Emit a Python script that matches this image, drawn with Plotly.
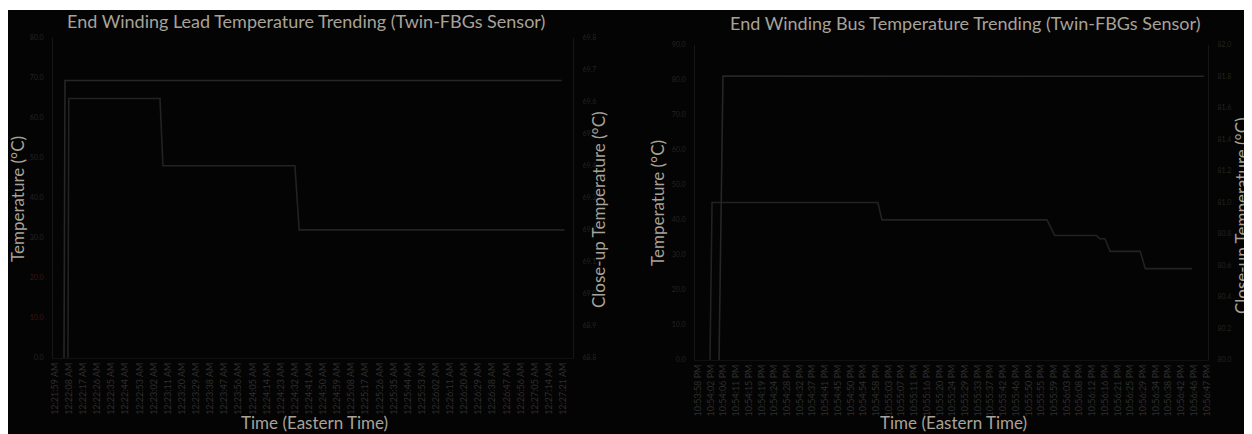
import plotly.graph_objects as go

# the page body keeps its default 8px margin, which supplies the white
# border of the original screenshot; the figure fills the rest of the window
W, H = 1244, 426
OFF = 8

# ---------------- data: left chart (End Winding Lead) ----------------
lead_time_labels = [
    "12:21:59 AM", "12:22:08 AM", "12:22:17 AM", "12:22:26 AM", "12:22:35 AM",
    "12:22:44 AM", "12:22:53 AM", "12:23:02 AM", "12:23:11 AM", "12:23:20 AM",
    "12:23:29 AM", "12:23:38 AM", "12:23:47 AM", "12:23:56 AM", "12:24:05 AM",
    "12:24:14 AM", "12:24:23 AM", "12:24:32 AM", "12:24:41 AM", "12:24:50 AM",
    "12:24:59 AM", "12:25:08 AM", "12:25:17 AM", "12:25:26 AM", "12:25:35 AM",
    "12:25:44 AM", "12:25:53 AM", "12:26:02 AM", "12:26:11 AM", "12:26:20 AM",
    "12:26:29 AM", "12:26:38 AM", "12:26:47 AM", "12:26:56 AM", "12:27:05 AM",
    "12:27:14 AM", "12:27:21 AM",
]
lead_main_x = [0.64, 0.71, 35.9]
lead_main_y = [0.0, 69.3, 69.3]
lead_close_x = [0.92, 0.98, 7.44, 7.65, 17.0, 17.3, 36.1]
lead_close_y = [68.8, 69.61, 69.61, 69.40, 69.40, 69.20, 69.20]
lead_left_ticks = [0, 10, 20, 30, 40, 50, 60, 70, 80]
lead_right_ticks = [68.8, 68.9, 69.0, 69.1, 69.2, 69.3, 69.4, 69.5, 69.6, 69.7, 69.8]

# ---------------- data: right chart (End Winding Bus) ----------------
bus_time_labels = [
    "10:53:58 PM", "10:54:02 PM", "10:54:06 PM", "10:54:11 PM", "10:54:15 PM",
    "10:54:19 PM", "10:54:24 PM", "10:54:28 PM", "10:54:32 PM", "10:54:37 PM",
    "10:54:41 PM", "10:54:45 PM", "10:54:50 PM", "10:54:54 PM", "10:54:58 PM",
    "10:55:03 PM", "10:55:07 PM", "10:55:11 PM", "10:55:16 PM", "10:55:20 PM",
    "10:55:24 PM", "10:55:29 PM", "10:55:33 PM", "10:55:37 PM", "10:55:42 PM",
    "10:55:46 PM", "10:55:50 PM", "10:55:55 PM", "10:55:59 PM", "10:56:03 PM",
    "10:56:08 PM", "10:56:12 PM", "10:56:16 PM", "10:56:21 PM", "10:56:25 PM",
    "10:56:29 PM", "10:56:34 PM", "10:56:38 PM", "10:56:42 PM", "10:56:46 PM",
    "10:56:47 PM",
]
bus_main_x = [1.65, 1.96, 39.8]
bus_main_y = [0.0, 81.1, 81.08]
bus_close_x = [0.94, 1.10, 14.14, 14.46, 27.44, 28.05, 31.34, 31.6, 32.0, 32.4,
               34.77, 35.17, 38.86]
bus_close_y = [80.0, 81.0, 81.0, 80.89, 80.89, 80.79, 80.79, 80.77, 80.77, 80.69,
               80.69, 80.58, 80.58]
bus_left_ticks = [0, 10, 20, 30, 40, 50, 60, 70, 80, 90]
bus_right_ticks = [80.0, 80.2, 80.4, 80.6, 80.8, 81.0, 81.2, 81.4, 81.6, 81.8, 82.0]

titles = ["End Winding Lead Temperature Trending (Twin-FBGs Sensor)",
          "End Winding Bus Temperature Trending (Twin-FBGs Sensor)"]

# ---------------- styling ----------------
BG = "#040404"
TICKY = "#252321"
TICKX = "#302f2e"
TITLE = "#a8a298"
LINE1 = "#262626"
LINE2 = "#222222"
AXL = "#161616"
FONT = "Lato"


def fx(p):  # page pixel -> paper fraction
    return (p - OFF) / W


def fy(p):
    return 1 - (p - OFF) / H


fig = go.Figure()
fig.add_trace(go.Scatter(x=lead_main_x, y=lead_main_y, mode="lines",
                         line=dict(color=LINE1, width=1.6), xaxis="x", yaxis="y",
                         showlegend=False))
fig.add_trace(go.Scatter(x=lead_close_x, y=lead_close_y, mode="lines",
                         line=dict(color=LINE2, width=1.6), xaxis="x", yaxis="y2",
                         showlegend=False))
fig.add_trace(go.Scatter(x=bus_main_x, y=bus_main_y, mode="lines",
                         line=dict(color=LINE1, width=1.6), xaxis="x2", yaxis="y3",
                         showlegend=False))
fig.add_trace(go.Scatter(x=bus_close_x, y=bus_close_y, mode="lines",
                         line=dict(color=LINE2, width=1.6), xaxis="x2", yaxis="y4",
                         showlegend=False))


def ylabels(vals, fmt, red=()):
    out = []
    for v in vals:
        s = fmt.format(v)
        if v in red:
            s = '<span style="color:#3a1414">' + s + "</span>"
        out.append(s)
    return out


tickfont_x = dict(family=FONT, size=9, color=TICKX)
tickfont_y = dict(family=FONT, size=7, color=TICKY)

common_x = dict(showgrid=False, zeroline=False, showline=True, linecolor="#101010",
                ticks="", tickangle=-90, tickfont=tickfont_x, automargin=False)
common_y = dict(showgrid=False, zeroline=False, showline=True, linecolor=AXL,
                ticks="", tickfont=tickfont_y, automargin=False, ticklabelstandoff=7)

lead_dom_y = [fy(358), fy(37.7)]
bus_dom_y = [fy(360), fy(45)]

fig.update_layout(
    width=W, height=H, autosize=False,
    margin=dict(l=0, r=0, t=0, b=0),
    paper_bgcolor=BG, plot_bgcolor=BG,
    xaxis=dict(domain=[fx(53), fx(573)], range=[-0.14, 36.7],
               tickvals=list(range(len(lead_time_labels))), ticktext=lead_time_labels,
               anchor="y", **common_x),
    yaxis=dict(domain=lead_dom_y, range=[0, 80], tickvals=lead_left_ticks,
               ticktext=ylabels(lead_left_ticks, "{:.1f}", red=(10, 20)),
               anchor="x", **common_y),
    yaxis2=dict(range=[68.8, 69.8], tickvals=lead_right_ticks,
                ticktext=ylabels(lead_right_ticks, "{:.1f}"),
                overlaying="y", side="right", anchor="x", **common_y),
    xaxis2=dict(domain=[fx(695), fx(1208)], range=[-0.24, 40.1],
                tickvals=list(range(len(bus_time_labels))), ticktext=bus_time_labels,
                anchor="y3", **common_x),
    yaxis3=dict(domain=bus_dom_y, range=[0, 90], tickvals=bus_left_ticks,
                ticktext=ylabels(bus_left_ticks, "{:.1f}"),
                anchor="x2", **common_y),
    yaxis4=dict(range=[80.0, 82.0], tickvals=bus_right_ticks,
                ticktext=ylabels(bus_right_ticks, "{:.1f}"),
                overlaying="y3", side="right", anchor="x2", **common_y),
)

ann = []
# chart titles
ann.append(dict(text=titles[0], x=fx(306), y=fy(21)))
ann.append(dict(text=titles[1], x=fx(965), y=fy(23)))
for a in ann:
    a.update(font=dict(family=FONT, size=18, color=TITLE))
# axis titles
for x, y, t in [(18, 199, "Temperature (°C)"),
                (599, 210, "Close-up Temperature (°C)"),
                (657, 203, "Temperature (°C)"),
                (1242, 216, "Close-up Temperature (°C)")]:
    ann.append(dict(text=t, x=fx(x), y=fy(y), textangle=-90,
                    font=dict(family=FONT, size=17, color=TITLE)))
for x in (314, 953):
    ann.append(dict(text="Time (Eastern Time)", x=fx(x), y=fy(422),
                    font=dict(family=FONT, size=17, color=TITLE)))
for a in ann:
    a.update(xref="paper", yref="paper", xanchor="center", yanchor="middle",
             showarrow=False)
fig.update_layout(annotations=ann)

# thin extra white strip at the top of the original screenshot
fig.update_layout(shapes=[
    dict(type="rect", xref="paper", yref="paper", x0=0, x1=1, y0=fy(10), y1=1,
         fillcolor="white", line=dict(width=0), layer="below"),
])

fig.write_html("out.html")
